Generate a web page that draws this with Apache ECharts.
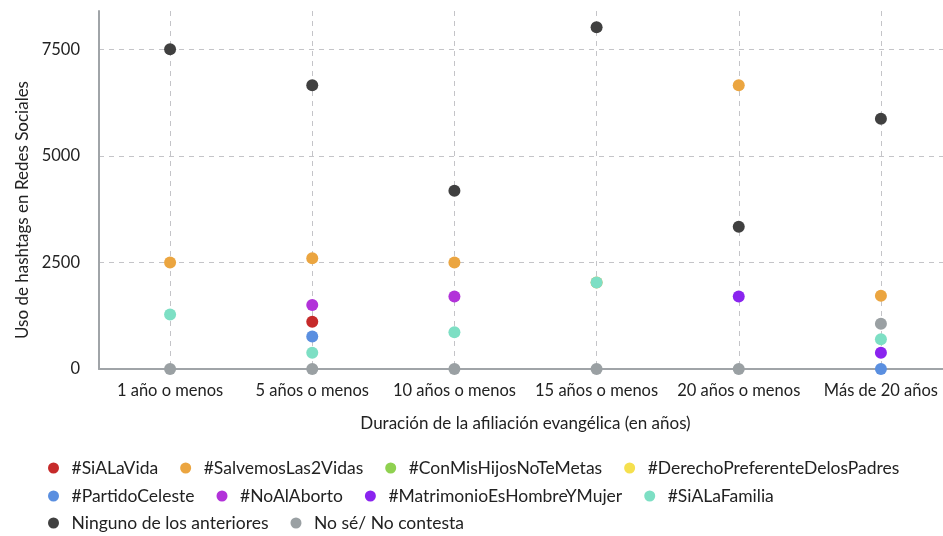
<!DOCTYPE html>
<html>
<head>
<meta charset="utf-8">
<script src="https://cdn.jsdelivr.net/npm/echarts@6/dist/echarts.min.js"></script>
<style>
  html, body { margin: 0; padding: 0; background: #fff; overflow: hidden; }
  #chart { width: 952px; height: 536px; }
</style>
</head>
<body>
<div id="chart"></div>
<script>
// categorias del eje x
var categorias = ['1 año o menos', '5 años o menos', '10 años o menos', '15 años o menos', '20 años o menos', 'Más de 20 años'];

// valores por hashtag (null = sin dato)
var siALaVida         = [null, 1110, null, null, null, null];
var salvemosLas2Vidas = [2500, 2600, 2500, 2030, 6660, 1720];
var conMisHijos       = [null, null, null, null, null, null];
var derechoPadres     = [null, null, null, null, null, null];
var partidoCeleste    = [null, 760, null, null, null, 0];
var noAlAborto        = [null, 1500, 1700, null, null, null];
var matrimonio        = [null, null, null, null, 1700, 380];
var siALaFamilia      = [1280, 380, 860, 2030, null, 700];
var ninguno           = [7500, 6660, 4180, 8020, 3340, 5870];
var noSe              = [0, 0, 0, 0, 0, 1060];

var yTicks = [0, 2500, 5000, 7500];

var series_def = [
  { name: '#SiALaVida', data: siALaVida, color: '#c62a2a' },
  { name: '#SalvemosLas2Vidas', data: salvemosLas2Vidas, color: '#eba540' },
  { name: '#ConMisHijosNoTeMetas', data: conMisHijos, color: '#8fd150' },
  { name: '#DerechoPreferenteDelosPadres', data: derechoPadres, color: '#f5e04e' },
  { name: '#PartidoCeleste', data: partidoCeleste, color: '#5a8fe0' },
  { name: '#NoAlAborto', data: noAlAborto, color: '#b232d9' },
  { name: '#MatrimonioEsHombreYMujer', data: matrimonio, color: '#8a24ef' },
  { name: '#SiALaFamilia', data: siALaFamilia, color: '#7ddfc4' },
  { name: 'Ninguno de los anteriores', data: ninguno, color: '#404040' },
  { name: 'No sé/ No contesta', data: noSe, color: '#9aa0a3' }
];

var chart = echarts.init(document.getElementById('chart'));
var fontFam = 'Lato, "Noto Sans", sans-serif';

function legendRow(names, top) {
  return {
    data: names,
    left: 43,
    top: top,
    icon: 'circle',
    itemWidth: 26,
    itemHeight: 11,
    itemGap: 22,
    textStyle: { fontFamily: fontFam, fontSize: 17.5, color: '#222' }
  };
}

var option = {
  animation: false,
  grid: { left: 99, right: 0, top: 11, bottom: 167 },
  legend: [
    legendRow(['#SiALaVida', '#SalvemosLas2Vidas', '#ConMisHijosNoTeMetas', '#DerechoPreferenteDelosPadres'], 454),
    legendRow(['#PartidoCeleste', '#NoAlAborto', '#MatrimonioEsHombreYMujer', '#SiALaFamilia'], 482),
    legendRow(['Ninguno de los anteriores', 'No sé/ No contesta'], 509)
  ],
  xAxis: {
    type: 'category',
    data: categorias,
    boundaryGap: true,
    name: 'Duración de la afiliación evangélica (en años)',
    nameLocation: 'middle',
    nameGap: 46,
    nameTextStyle: { fontFamily: fontFam, fontSize: 17, color: '#222' },
    axisLine: { lineStyle: { color: '#a0a4a8', width: 2 } },
    axisTick: { show: false },
    axisLabel: { interval: 0, fontFamily: fontFam, fontSize: 16.5, color: '#222', margin: 13 },
    splitLine: { show: true, alignWithLabel: true, lineStyle: { type: [5, 5], color: '#c4c4c8' } }
  },
  yAxis: {
    type: 'value',
    min: 0,
    max: 8400,
    interval: 2500,
    name: 'Uso de hashtags en Redes Sociales',
    nameLocation: 'middle',
    nameGap: 68,
    nameTextStyle: { fontFamily: fontFam, fontSize: 17, color: '#222', padding: [0, 0, 0, -40] },
    axisLine: { show: true, lineStyle: { color: '#a0a4a8', width: 2 } },
    axisTick: { show: false },
    axisLabel: {
      fontFamily: fontFam, fontSize: 16.5, color: '#222', margin: 19,
      showMaxLabel: false,
      formatter: function (v) { return yTicks.indexOf(v) >= 0 ? String(v) : ''; }
    },
    splitLine: { show: true, showMaxLine: false, showMinLine: false, lineStyle: { type: [5, 5], color: '#c4c4c8' } }
  },
  series: series_def.map(function (s) {
    return {
      name: s.name,
      type: 'scatter',
      data: s.data,
      symbolSize: 12,
      itemStyle: { color: s.color, opacity: 1 }
    };
  })
};
chart.setOption(option);
</script>
</body>
</html>
